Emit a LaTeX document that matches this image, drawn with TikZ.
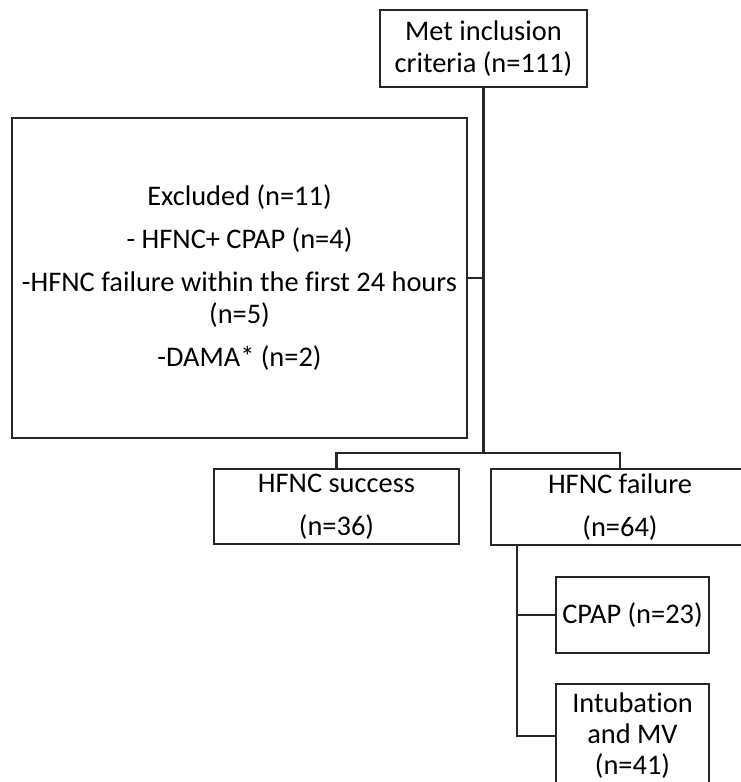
\documentclass[tikz,border=0pt]{standalone}
\usepackage{fontspec}
\setmainfont{Carlito}[Ligatures={NoCommon}]
\begin{document}
\begin{tikzpicture}[x=1pt,y=-1pt,
  box/.style={draw=black!85, line width=2pt, inner sep=0pt, align=center,
    font=\fontsize{28.4}{32}\selectfont},
  conn/.style={draw=black!85, line width=2.2pt}]
\fill[white] (0,0) rectangle (741,782);
\clip (0,0) rectangle (741,782);
\node[box, minimum width=207pt, minimum height=77pt] (top) at (483.5,48.5) {Met inclusion\\criteria (n=111)};
\node[box, minimum width=455pt, minimum height=320pt] (excl) at (239.5,278) {Excluded (n=11)\\[11pt]- HFNC+ CPAP (n=4)\\[11pt]-HFNC failure within the first 24 hours\\(n=5)\\[11pt]-DAMA* (n=2)};
\node[box, minimum width=245pt, minimum height=75pt] (succ) at (336.5,506.5) {HFNC success\\[11pt](n=36)};
\node[box, minimum width=258pt, minimum height=76pt] (fail) at (620,507) {HFNC failure\\[11pt](n=64)};
\node[box, minimum width=153pt, minimum height=76pt] (cpap) at (632.5,615) {CPAP (n=23)};
\node[box, minimum width=153pt, minimum height=104pt, font=\fontsize{28.4}{31}\selectfont] (intub) at (632.5,736) {Intubation\\and MV\\(n=41)};
\coordinate (J) at (top.south |- 0,453);
\coordinate (fb) at ([xshift=-103pt]fail.south);
\draw[conn] (top.south) -- (J);
\draw[conn] (excl.east) -- (excl.east -| J);
\draw[conn] (succ.north) |- (J) -| (fail.north);
\draw[conn] (fb) |- (intub.west);
\draw[conn] (fb |- cpap.west) -- (cpap.west);
\end{tikzpicture}
\end{document}
